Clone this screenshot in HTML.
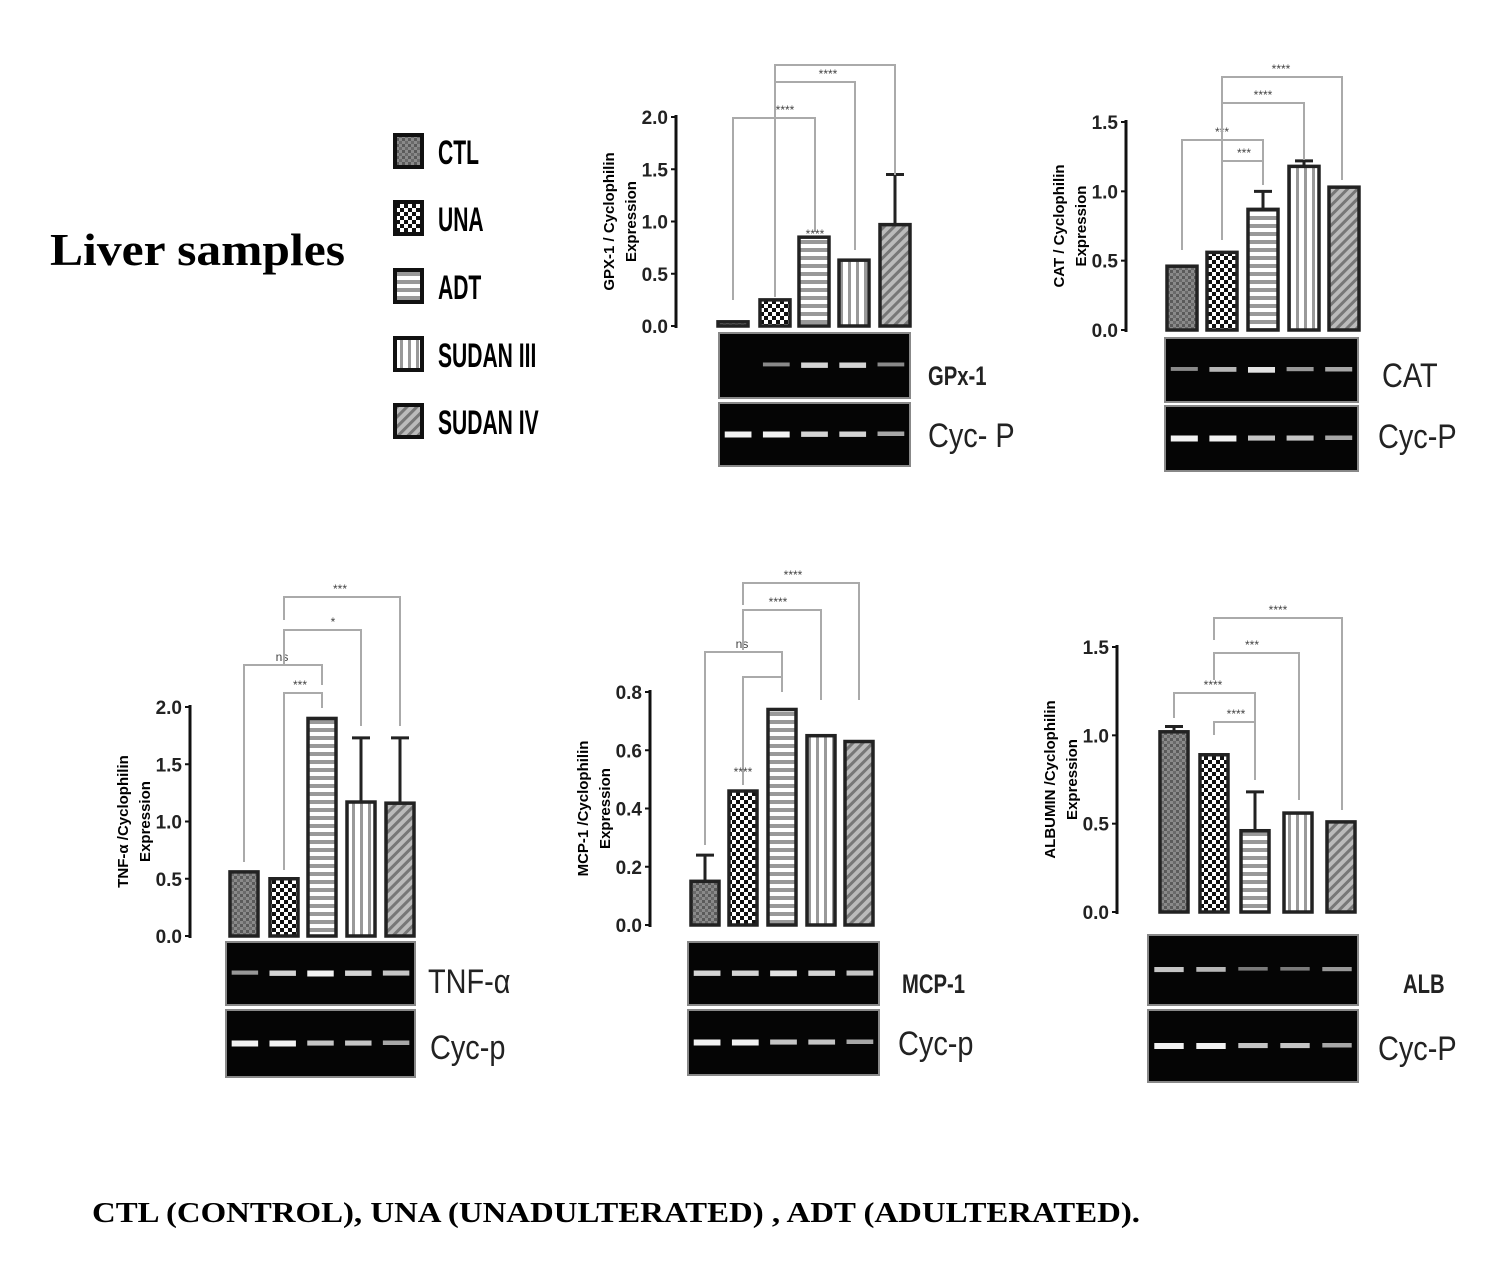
<!DOCTYPE html>
<html><head><meta charset="utf-8">
<style>
html,body{margin:0;padding:0;background:#fff;}
svg{display:block;}
</style></head>
<body>
<svg id="s" width="1500" height="1263" viewBox="0 0 1500 1263" xmlns="http://www.w3.org/2000/svg">
<defs>
<pattern id="pCTL" width="6" height="6" patternUnits="userSpaceOnUse"><rect width="6" height="6" fill="#8a8a8a"/><rect width="3" height="3" fill="#5a5a5a"/><rect x="3" y="3" width="3" height="3" fill="#6a6a6a"/></pattern>
<pattern id="pUNA" width="8" height="8" patternUnits="userSpaceOnUse"><rect width="8" height="8" fill="#fff"/><rect width="4" height="4" fill="#111"/><rect x="4" y="4" width="4" height="4" fill="#111"/></pattern>
<pattern id="pADT" width="8" height="8" patternUnits="userSpaceOnUse"><rect width="8" height="8" fill="#fff"/><rect width="8" height="4" fill="#999"/></pattern>
<pattern id="pS3" width="8" height="8" patternUnits="userSpaceOnUse"><rect width="8" height="8" fill="#fff"/><rect width="3" height="8" fill="#999"/></pattern>
<pattern id="pS4" width="7" height="7" patternUnits="userSpaceOnUse" patternTransform="rotate(45)"><rect width="7" height="7" fill="#bbb"/><rect width="3" height="7" fill="#777"/></pattern>
</defs>
<g id="g" font-family="Liberation Sans, sans-serif"></g>
<text x="50" y="265" font-family="Liberation Serif, serif" font-weight="bold" font-size="46" textLength="295" lengthAdjust="spacingAndGlyphs">Liver samples</text>
<text x="92" y="1222" font-family="Liberation Serif, serif" font-weight="bold" font-size="28" textLength="1048" lengthAdjust="spacingAndGlyphs">CTL (CONTROL),  UNA (UNADULTERATED)  , ADT (ADULTERATED).</text>
</svg>
<script>
const g=document.getElementById('g');let h='';
const pats=['pCTL','pUNA','pADT','pS3','pS4'];
const lg=[['CTL',133],['UNA',200],['ADT',268],['SUDAN III',336],['SUDAN IV',403]];
lg.forEach((l,i)=>{h+=`<rect x="395" y="${l[1]+2}" width="27" height="32" fill="url(#${pats[i]})" stroke="#111" stroke-width="4"/>`;
h+=`<text x="438" y="${l[1]+31}" font-size="34" font-weight="bold" transform="translate(438 0) scale(0.62 1) translate(-438 0)">${l[0]}</text>`;});
function panel(p){
 const sc=(p.y0-p.ytop)/p.max;
 h+=`<line x1="${p.ax}" y1="${p.ytop-2}" x2="${p.ax}" y2="${p.y0+2}" stroke="#111" stroke-width="3"/>`;
 p.ticks.forEach(t=>{const y=p.y0-t*sc;h+=`<line x1="${p.ax-5}" y1="${y}" x2="${p.ax}" y2="${y}" stroke="#111" stroke-width="2"/><text x="${p.ax-8}" y="${y+7}" font-size="19" font-weight="bold" text-anchor="end" fill="#222">${t.toFixed(1)}</text>`;});
 const cx=p.ax-62;const cy=(p.y0+p.ytop)/2;
 h+=`<text transform="translate(${cx} ${cy}) rotate(-90)" font-size="15" font-weight="bold" text-anchor="middle"><tspan x="0" y="0">${p.lab}</tspan><tspan x="0" y="22">Expression</tspan></text>`;
 p.bars.forEach((b,i)=>{const top=p.y0-b[1]*sc;
  if(b[2]){const ey=p.y0-b[2]*sc;const m=b[0]+p.bw/2;h+=`<line x1="${m}" y1="${ey}" x2="${m}" y2="${top}" stroke="#222" stroke-width="3"/><line x1="${m-9}" y1="${ey}" x2="${m+9}" y2="${ey}" stroke="#222" stroke-width="3"/>`;}
  h+=`<rect x="${b[0]}" y="${top}" width="${p.bw}" height="${p.y0-top}" fill="url(#${pats[i]})" stroke="#222" stroke-width="3.5"/>`;});
 p.br.forEach(b=>{h+=`<polyline points="${b[0]},${b[1]} ${b[0]},${b[2]} ${b[3]},${b[2]} ${b[3]},${b[4]}" fill="none" stroke="#aaa" stroke-width="2"/><text x="${b[5]}" y="${b[2]-4}" font-size="12" text-anchor="middle" fill="#444">${b[6]}</text>`;});
 (p.st||[]).forEach(s=>{h+=`<text x="${s[0]}" y="${s[1]}" font-size="12" text-anchor="middle" fill="#444">${s[2]}</text>`;});
 p.gel.forEach((gl,k)=>{h+=`<rect x="${p.gx}" y="${gl[0]}" width="${p.gw}" height="${gl[1]}" fill="#050505" stroke="#888" stroke-width="2"/>`;
  const n=5,lw=p.gw/n;gl[2].forEach((v,i)=>{if(v>0){const x=p.gx+lw*i+lw*0.15;h+=`<rect x="${x}" y="${gl[0]+gl[1]/2-3}" width="${lw*0.7}" height="${3+v*3}" fill="#fff" opacity="${0.35+v*0.6}"/>`;}});
  const L=p.gl[k];h+=`<text x="${L[0]}" y="${L[1]}" font-size="${L[3]?27:34}" ${L[3]?'font-weight="bold"':''} fill="#222" transform="translate(${L[0]} 0) scale(${L[3]?0.75:0.85} 1) translate(${-L[0]} 0)">${L[2]}</text>`;});
}
panel({ax:676,y0:326,ytop:117,max:2,ticks:[0,0.5,1,1.5,2],lab:'GPX-1 / Cyclophilin',bw:30,
 bars:[[718,0.04],[760,0.25],[799,0.85],[839,0.63],[880,0.97,1.45]],
 br:[[733,300,118,815,232,785,'****'],[775,297,82,855,250,828,'****'],[775,100,65,895,175,0,'']],
 st:[[815,238,'****']],gx:719,gw:191,gel:[[333,65,[0,0.3,0.8,0.8,0.3]],[403,63,[1,1,0.8,0.8,0.5]]],
 gl:[[928,385,'GPx-1',1],[928,447,'Cyc- P']]});
panel({ax:1126,y0:330,ytop:122,max:1.5,ticks:[0,0.5,1,1.5],lab:'CAT / Cyclophilin',bw:30,
 bars:[[1167,0.46],[1207,0.56],[1248,0.87,1.0],[1289,1.18,1.22],[1329,1.03]],
 br:[[1182,250,140,1263,185,1222,'***'],[1222,172,161,1263,172,1244,'***'],[1222,240,103,1304,160,1263,'****'],[1222,140,77,1342,180,1281,'****']],
 gx:1165,gw:193,gel:[[338,64,[0.3,0.6,0.9,0.4,0.5]],[406,65,[1,1,0.7,0.7,0.5]]],
 gl:[[1382,387,'CAT'],[1378,448,'Cyc-P']]});
panel({ax:190,y0:936,ytop:707,max:2,ticks:[0,0.5,1,1.5,2],lab:'TNF-α /Cyclophilin',bw:28,
 bars:[[230,0.56],[270,0.5],[308,1.9],[347,1.17,1.73],[386,1.16,1.73]],
 br:[[244,862,665,322,685,282,'ns'],[284,870,693,322,708,300,'***'],[284,666,630,361,726,333,'*'],[284,620,597,400,726,340,'***']],
 gx:226,gw:189,gel:[[942,63,[0.4,0.8,1,0.8,0.7]],[1010,67,[1,1,0.7,0.7,0.5]]],
 gl:[[428,993,'TNF-α'],[430,1059,'Cyc-p']]});
panel({ax:650,y0:925,ytop:692,max:0.8,ticks:[0,0.2,0.4,0.6,0.8],lab:'MCP-1 /Cyclophilin',bw:28,
 bars:[[691,0.15,0.24],[729,0.46],[768,0.74],[807,0.65],[845,0.63]],
 br:[[705,845,652,782,692,742,'ns'],[743,785,677,782,692,0,''],[743,650,610,821,700,778,'****'],[743,605,583,859,700,793,'****']],
 st:[[743,776,'****']],gx:688,gw:191,gel:[[942,63,[0.8,0.8,0.9,0.8,0.7]],[1010,65,[1,1,0.7,0.7,0.5]]],
 gl:[[902,993,'MCP-1',1],[898,1055,'Cyc-p']]});
panel({ax:1117,y0:912,ytop:647,max:1.5,ticks:[0,0.5,1,1.5],lab:'ALBUMIN /Cyclophilin',bw:28,
 bars:[[1160,1.02,1.05],[1200,0.89],[1241,0.46,0.68],[1284,0.56],[1327,0.51]],
 br:[[1174,718,693,1255,780,1213,'****'],[1214,735,722,1255,780,1236,'****'],[1214,680,653,1299,800,1252,'***'],[1214,640,618,1342,810,1278,'****']],
 gx:1148,gw:210,gel:[[935,70,[0.7,0.6,0.2,0.2,0.4]],[1010,72,[1,1,0.7,0.7,0.5]]],
 gl:[[1403,993,'ALB',1],[1378,1060,'Cyc-P']]});
g.innerHTML=h;
</script>
</body></html>
